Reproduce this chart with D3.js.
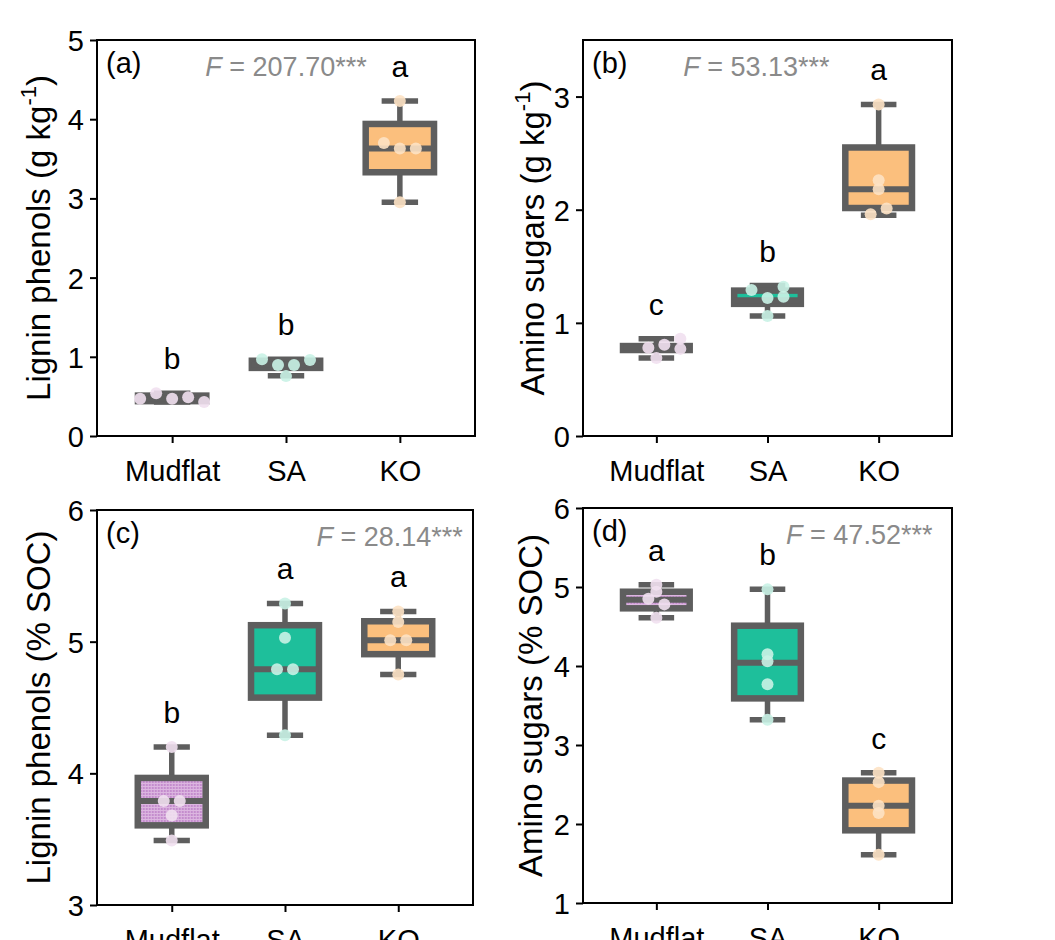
<!DOCTYPE html>
<html lang="en">
<head>
    <meta charset="UTF-8">
    <title>Lignin phenols and amino sugars</title>
    <style>
        body { margin: 0; background: #fff; }
        svg text { font-family: "Liberation Sans", Arial, sans-serif; }
        .tick text { font-size: 29px; fill: #000; }
        .tick line { stroke: #000; stroke-width: 2px; }
        .axis-label { font-size: 33px; fill: #000; }
        .panel-label { font-size: 29px; fill: #000; }
        .f-label { font-size: 27px; fill: #8a8a8a; }
        .sig-letter { font-size: 30px; fill: #000; }
    </style>
</head>
<body>

    <svg width="1055" height="940"></svg>

    <script src="https://d3js.org/d3.v7.min.js"></script>

    <script>

        // Categories shared by every panel
        const sites = ['Mudflat', 'SA', 'KO'];

        // Five number summaries per site: [min, q1, median, q3, max]
        const ligninStats = [[0.43, 0.44, 0.47, 0.51, 0.54], [0.76, 0.86, 0.90, 0.95, 0.97], [2.95, 3.33, 3.63, 3.94, 4.23]];
        const aminoStats = [[0.69, 0.76, 0.78, 0.795, 0.86], [1.06, 1.168, 1.20, 1.285, 1.33], [1.95, 2.015, 2.18, 2.55, 2.93]];
        const ligninSocStats = [[3.49, 3.605, 3.79, 3.965, 4.20], [4.29, 4.575, 4.79, 5.125, 5.29], [4.75, 4.905, 5.01, 5.155, 5.23]];
        const aminoSocStats = [[4.61, 4.73, 4.84, 4.94, 5.03], [3.32, 3.59, 4.04, 4.51, 4.97], [1.61, 1.92, 2.23, 2.55, 2.65]];

        // Replicate values per site
        const ligninPoints = [[0.47, 0.54, 0.47, 0.49, 0.43], [0.97, 0.895, 0.895, 0.96, 0.756], [4.23, 3.70, 3.63, 3.63, 2.95]];
        const aminoPoints = [[0.78, 0.806, 0.86, 0.77, 0.69], [1.29, 1.22, 1.32, 1.23, 1.06], [2.93, 2.26, 2.18, 2.01, 1.96]];
        const ligninSocPoints = [[4.20, 3.79, 3.79, 3.68, 3.49], [5.29, 5.03, 4.79, 4.79, 4.29], [5.23, 5.15, 5.01, 5.01, 4.75]];
        const aminoSocPoints = [[5.03, 4.94, 4.85, 4.78, 4.61], [4.97, 4.15, 4.06, 3.77, 3.32], [2.65, 2.53, 2.23, 2.14, 1.61]];

        // Swarm offsets of the replicates (in marker widths)
        const ligninJitter = [[-2, -1, 0, 1, 2], [-1.5, -0.5, 0.5, 1.5, 0], [0, -1, 0, 1, 0]];
        const aminoJitter = [[-0.5, 0.5, 1.5, 1.5, 0], [-1, 0, 1, 1, 0], [0, 0, 0, 0.5, -0.5]];
        const ligninSocJitter = [[0, -0.5, 0.5, 0, 0], [0, 0, -0.5, 0.5, 0], [0, 0, -0.5, 0.5, 0]];
        const aminoSocJitter = [[0, 0, -0.5, 0.5, 0], [0, 0, 0, 0, 0], [0, 0, 0, 0, 0]];

        // Significance letters and F values
        const ligninLetters = ['b', 'b', 'a'];
        const aminoLetters = ['c', 'b', 'a'];
        const ligninSocLetters = ['b', 'a', 'a'];
        const aminoSocLetters = ['a', 'b', 'c'];
        const fValues = ['207.70', '53.13', '28.14', '47.52'];

        // y axes
        const ligninDomain = [0, 5];
        const aminoDomain = [0, 3.5];
        const ligninSocDomain = [3, 6];
        const aminoSocDomain = [1, 6];
        const ligninTicks = [0, 1, 2, 3, 4, 5];
        const aminoTicks = [0, 1, 2, 3];
        const ligninSocTicks = [3, 4, 5, 6];
        const aminoSocTicks = [1, 2, 3, 4, 5, 6];

        const boxFill = ['url(#mudflatFill)', '#1ebf9b', '#fbbf7d'];
        const dotFill = ['#f1e0f0', '#c9f2e6', '#fde2c4'];
        const boxStroke = '#5e5e5e';

        const svg = d3.select('svg');

        // fine grid texture of the Mudflat boxes
        const pattern = svg.append('defs')
            .append('pattern')
            .attr('id', 'mudflatFill')
            .attr('patternUnits', 'userSpaceOnUse')
            .attr('width', 3)
            .attr('height', 3);
        pattern.append('rect').attr('width', 3).attr('height', 3).attr('fill', '#c48ccd');
        pattern.append('path').attr('d', 'M0 0.5H3M0.5 0V3').attr('stroke', '#dcb6e0').attr('stroke-width', 1);

        const panels = [
            { tag: '(a)', left: 97, right: 475, top: 40, bottom: 436, domain: ligninDomain, ticks: ligninTicks,
              stats: ligninStats, points: ligninPoints, jitter: ligninJitter, letters: ligninLetters, f: fValues[0],
              title: ['Lignin phenols (g kg', '-1', ')'], titleX: 38, fX: 0.5, fAnchor: 'middle' },
            { tag: '(b)', left: 583, right: 952, top: 40, bottom: 436, domain: aminoDomain, ticks: aminoTicks,
              stats: aminoStats, points: aminoPoints, jitter: aminoJitter, letters: aminoLetters, f: fValues[1],
              title: ['Amino sugars (g kg', '-1', ')'], titleX: 532, fX: 0.47, fAnchor: 'middle' },
            { tag: '(c)', left: 97, right: 473, top: 510, bottom: 905, domain: ligninSocDomain, ticks: ligninSocTicks,
              stats: ligninSocStats, points: ligninSocPoints, jitter: ligninSocJitter, letters: ligninSocLetters, f: fValues[2],
              title: ['Lignin phenols (% SOC)'], titleX: 38, fX: 0.973, fAnchor: 'end' },
            { tag: '(d)', left: 583, right: 952, top: 508, bottom: 903, domain: aminoSocDomain, ticks: aminoSocTicks,
              stats: aminoSocStats, points: aminoSocPoints, jitter: aminoSocJitter, letters: aminoSocLetters, f: fValues[3],
              title: ['Amino sugars (% SOC)'], titleX: 530, fX: 0.947, fAnchor: 'end' }
        ];

        panels.forEach(function (p) {

            const w = p.right - p.left;
            const h = p.bottom - p.top;

            const x = d3.scalePoint().domain(sites).range([0, w]).padding(0.66);
            const y = d3.scaleLinear().domain(p.domain).range([h, 0]);
            const step = x.step();
            const boxW = step * 0.6;
            const capW = step * 0.32;

            const g = svg.append('g')
                .attr('transform', 'translate(' + p.left + ' ' + p.top + ')');

            // axes
            const yAxisG = g.append('g')
                .call(d3.axisLeft(y).tickValues(p.ticks).tickFormat(d3.format('d')).tickSize(7).tickSizeOuter(0).tickPadding(6));
            const xAxisG = g.append('g')
                .attr('transform', 'translate(0 ' + h + ')')
                .call(d3.axisBottom(x).tickSize(7).tickSizeOuter(0).tickPadding(10));
            yAxisG.select('.domain').remove();
            xAxisG.select('.domain').remove();
            yAxisG.selectAll('.tick text').attr('dy', '0.36em');
            xAxisG.selectAll('.tick text').attr('dy', '0.95em');

            // boxes
            const groups = g.selectAll('.site')
                .data(sites)
                .enter()
                .append('g')
                .attr('class', 'site')
                .attr('transform', function (d) { return 'translate(' + x(d) + ' 0)'; });

            groups.append('line')
                .attr('y1', function (d, i) { return y(p.stats[i][0]); })
                .attr('y2', function (d, i) { return y(p.stats[i][4]); })
                .attr('stroke', boxStroke)
                .attr('stroke-width', 5.5);

            groups.selectAll('.cap')
                .data(function (d, i) { return [p.stats[i][0], p.stats[i][4]]; })
                .enter()
                .append('line')
                .attr('x1', -capW / 2)
                .attr('x2', capW / 2)
                .attr('y1', function (v) { return y(v); })
                .attr('y2', function (v) { return y(v); })
                .attr('stroke', boxStroke)
                .attr('stroke-width', 5.5);

            groups.append('rect')
                .attr('x', -boxW / 2)
                .attr('width', boxW)
                .attr('y', function (d, i) { return y(p.stats[i][3]); })
                .attr('height', function (d, i) { return y(p.stats[i][1]) - y(p.stats[i][3]); })
                .attr('fill', function (d, i) { return boxFill[i]; })
                .attr('stroke', boxStroke)
                .attr('stroke-width', 6.5);

            groups.append('line')
                .attr('x1', -boxW / 2)
                .attr('x2', boxW / 2)
                .attr('y1', function (d, i) { return y(p.stats[i][2]); })
                .attr('y2', function (d, i) { return y(p.stats[i][2]); })
                .attr('stroke', boxStroke)
                .attr('stroke-width', 6);

            groups.selectAll('circle')
                .data(function (d, i) {
                    return p.points[i].map(function (v, j) {
                        return { v: v, dx: p.jitter[i][j], c: dotFill[i] };
                    });
                })
                .enter()
                .append('circle')
                .attr('cx', function (d) { return d.dx * 16; })
                .attr('cy', function (d) { return y(d.v); })
                .attr('r', 6)
                .attr('fill', function (d) { return d.c; })
                .attr('opacity', 0.9);

            groups.append('text')
                .attr('class', 'sig-letter')
                .attr('y', function (d, i) { return y(p.stats[i][4]) - 24; })
                .attr('text-anchor', 'middle')
                .text(function (d, i) { return p.letters[i]; });

            // frame
            g.append('rect')
                .attr('width', w)
                .attr('height', h)
                .attr('fill', 'none')
                .attr('stroke', '#000')
                .attr('stroke-width', 2);

            g.append('text')
                .attr('class', 'panel-label')
                .attr('x', 9)
                .attr('y', 33)
                .text(p.tag);

            const fText = g.append('text')
                .attr('class', 'f-label')
                .attr('x', w * p.fX)
                .attr('y', 36)
                .attr('text-anchor', p.fAnchor);
            fText.append('tspan').attr('font-style', 'italic').text('F');
            fText.append('tspan').text(' = ' + p.f + '***');

            // y axis title
            const title = svg.append('text')
                .attr('class', 'axis-label')
                .attr('text-anchor', 'middle')
                .attr('transform', 'translate(' + (p.titleX + 12) + ' ' + (p.top + h / 2) + ') rotate(-90)');
            title.append('tspan').text(p.title[0]);
            if (p.title.length > 1) {
                title.append('tspan').attr('font-size', '22px').attr('dy', '-14').text(p.title[1]);
                title.append('tspan').attr('dy', '14').text(p.title[2]);
            }
        });

    </script>

</body>
</html>
